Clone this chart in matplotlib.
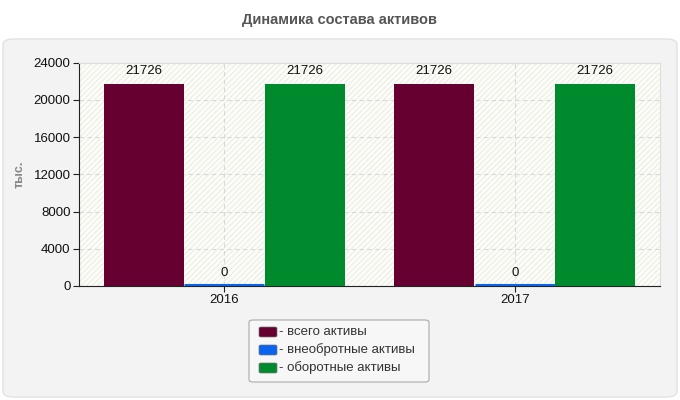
import matplotlib
matplotlib.use("Agg")
import matplotlib.pyplot as plt
from matplotlib.patches import FancyBboxPatch, Rectangle
import numpy as np

categories = ["2016", "2017"]
series_names = ["- всего активы", "- внеобротные активы", "- оборотные активы"]
total_assets = [21726, 21726]
noncurrent_assets = [0, 0]
current_assets = [21726, 21726]
colors = ["#650030", "#0a64f0", "#008a2e"]
yticks = [0, 4000, 8000, 12000, 16000, 20000, 24000]

plt.rcParams['font.family'] = ['Liberation Sans', 'DejaVu Sans']

W, H = 680, 400
fig = plt.figure(figsize=(6.8, 4.0), dpi=100)
fig.patch.set_facecolor("white")

def fx(px):
    return px / W

def fy(py):
    return 1 - py / H

# outer panel
panel = FancyBboxPatch((fx(3), fy(397)), fx(674), 358 / H,
                       boxstyle="round,pad=0,rounding_size=0.015",
                       transform=fig.transFigure, facecolor="#f3f3f3",
                       edgecolor="#e2e2e2", linewidth=1, zorder=-10)
fig.patches.append(panel)

fig.text(0.5, fy(20), "Динамика состава активов", ha="center", va="center",
         fontsize=10.5, fontweight="bold", color="#555555")

ax = fig.add_axes([fx(79), fy(286), fx(581), 223.5 / H])
ax.set_facecolor("#fdfdf9")
ax.add_patch(Rectangle((0, 0), 1, 1, transform=ax.transAxes, facecolor="none",
                       edgecolor="#efefe8", hatch="//////", linewidth=0, zorder=0))

x = np.arange(len(categories))
w = 0.277
series = [total_assets, noncurrent_assets, current_assets]
for i, (vals, c) in enumerate(zip(series, colors)):
    pos = x + (i - 1) * w
    ax.bar(pos, vals, width=w * 0.99, color=c, zorder=3)
    for p, v in zip(pos, vals):
        if v == 0:
            ax.plot([p - w / 2, p + w / 2], [60, 60], color=c, lw=2.2, zorder=3,
                    solid_capstyle="butt")
        ax.text(p, v + 700, f"{v}", ha="center", va="bottom", fontsize=9.5,
                color="#111111", zorder=4)

ax.set_xlim(-0.5, 1.5)
ax.set_ylim(0, 24000)
ax.set_yticks(yticks)
ax.set_yticklabels([str(t) for t in yticks], fontsize=9.5, color="#111111")
ax.set_xticks(x)
ax.set_xticklabels(categories, fontsize=9.5, color="#111111")
ax.grid(True, color="#d8d8d8", linestyle=(0, (4, 3)), linewidth=0.8, zorder=1)
ax.set_axisbelow(True)
for s in ["top", "right"]:
    ax.spines[s].set_color("#dddddd")
for s in ["left", "bottom"]:
    ax.spines[s].set_color("#222222")
ax.tick_params(axis="both", length=4, color="#222222", pad=2)

fig.text(fx(20), fy(174), "тыс.", rotation=90, ha="center", va="center",
         fontsize=9, color="#888888", fontweight="bold")

# legend (drawn manually to match box geometry)
box = FancyBboxPatch((fx(249), fy(382)), fx(180), 62 / H,
                     boxstyle="round,pad=0,rounding_size=0.006",
                     transform=fig.transFigure, facecolor="#f7f7f7",
                     edgecolor="#aaaaaa", linewidth=0.8, zorder=5)
fig.patches.append(box)
rows_y = [332, 350, 368]
for name, c, ry in zip(series_names, colors, rows_y):
    sw = FancyBboxPatch((fx(259), fy(ry + 5)), fx(18), 10 / H,
                        boxstyle="round,pad=0,rounding_size=0.003",
                        transform=fig.transFigure, facecolor=c,
                        edgecolor="#777777", linewidth=0.5, zorder=6)
    fig.patches.append(sw)
    fig.text(fx(279), fy(ry), name, ha="left", va="center", fontsize=9.5,
             color="#333333", zorder=7)

fig.savefig("out.png", dpi=100)
